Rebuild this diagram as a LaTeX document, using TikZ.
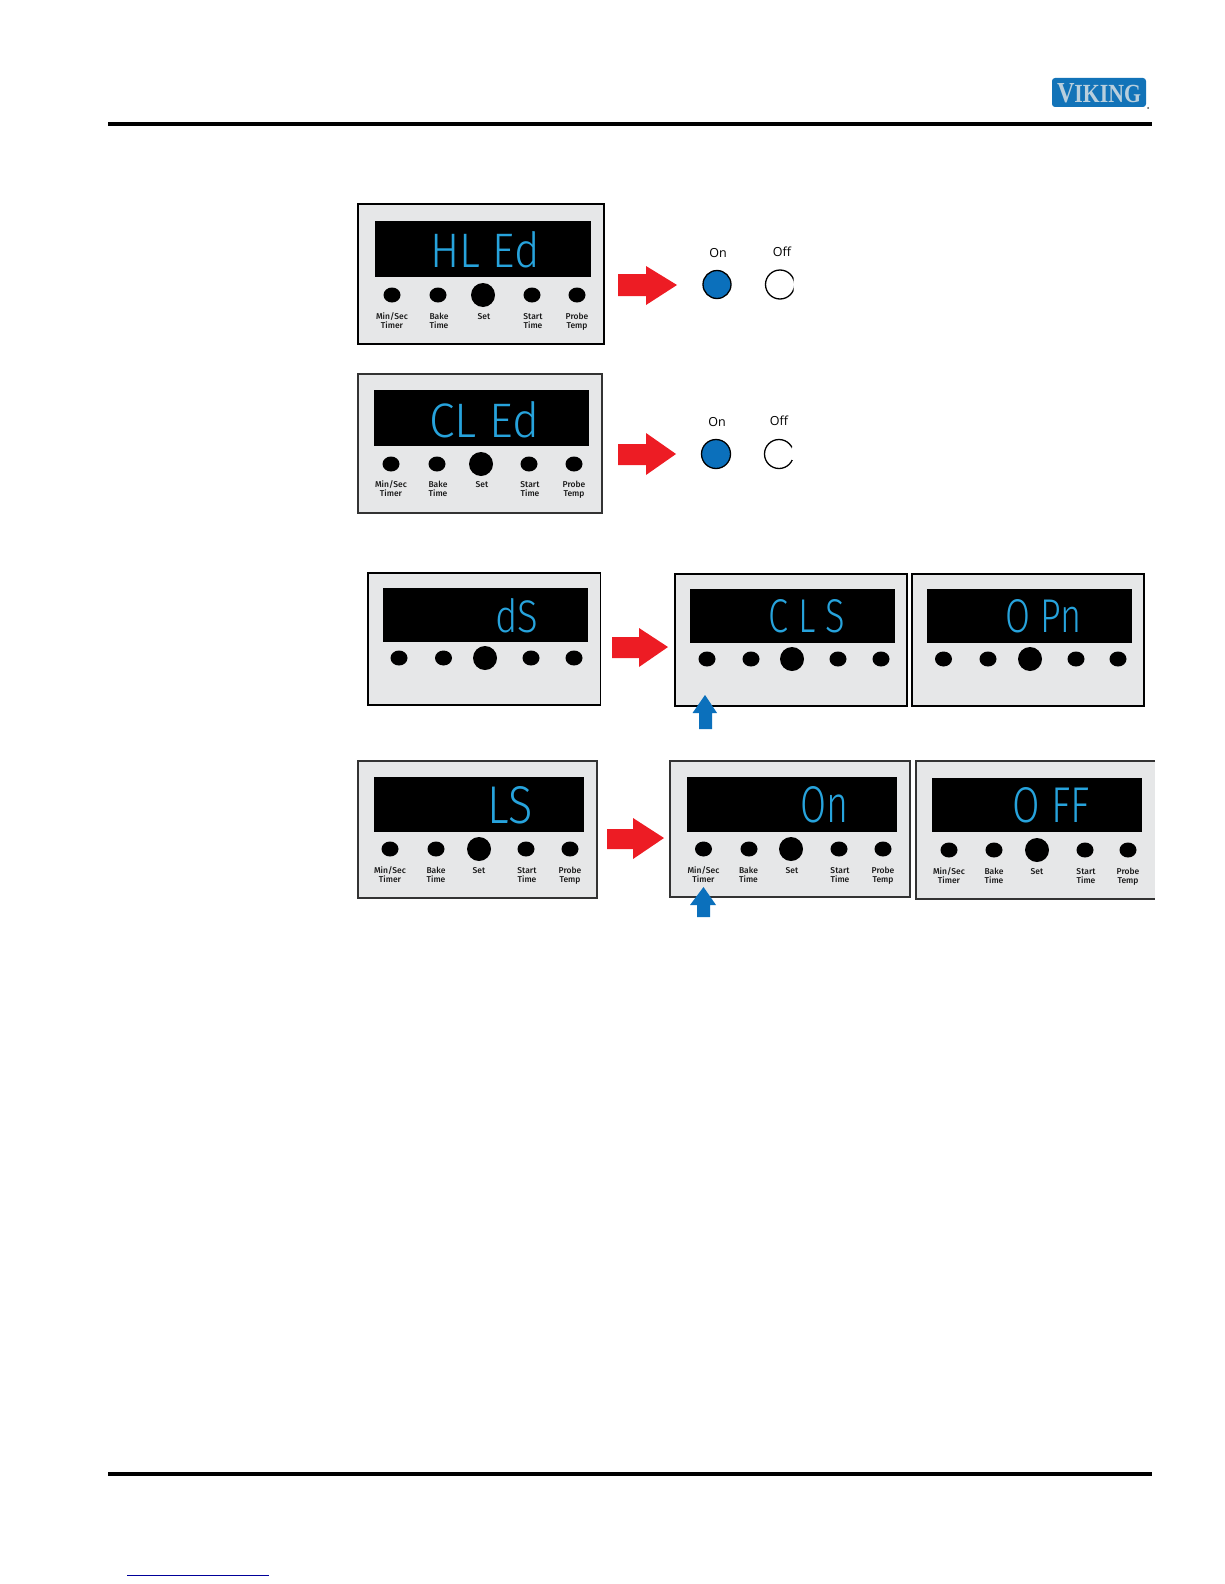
\documentclass[tikz,border=0pt]{standalone}
\usepackage{fontspec}
\usepackage{graphicx}
\setmainfont{Open Sans}
\newfontfamily\keyfont{Fira Sans Medium}
\newfontfamily\lcdfont{Fira Sans Light}
\newfontfamily\logofont{Liberation Serif}
\definecolor{panelgray}{HTML}{E6E7E8}
\definecolor{lcdblue}{HTML}{27A3DC}
\definecolor{ledblue}{HTML}{0B70BC}
\definecolor{pushred}{HTML}{ED1C24}
\definecolor{logoblue}{HTML}{1273B8}
\definecolor{logotext}{HTML}{B9CFDD}
\tikzset{
    panelbox/.style={draw=black,fill=panelgray,line width=1.5pt},
    softbox/.style={draw=black!80,fill=panelgray,line width=1.5pt},
    keytext/.style={font=\keyfont\fontsize{8.5}{9}\selectfont,align=center,inner sep=0pt,text depth=2pt,text=black!90},
    ledtext/.style={font=\fontsize{12.5}{13}\selectfont,inner sep=0pt},
    lcdtext/.style={inner sep=0pt,text=lcdblue},
    led/.style={draw=black,line width=1.3pt}
}
% width, height, text of a display
\newcommand{\lcdword}[3]{\resizebox{#1pt}{#2pt}{\lcdfont #3}}
% row of keys: y, then five x
\newcommand{\keyrow}[6]{
    \fill (#2,#1) ellipse (8.5 and 7.5);
    \fill (#3,#1) ellipse (8.5 and 7.5);
    \fill (#4,#1) ellipse (12 and 12);
    \fill (#5,#1) ellipse (8.5 and 7.5);
    \fill (#6,#1) ellipse (8.5 and 7.5);
}
% push arrow: x start, x base, x tip, y shaft top, y shaft bottom, y head top, y head bottom, y tip
\newcommand{\pusharrow}[8]{
    \fill[pushred] (#1,#4) -- (#2,#4) -- (#2,#6) -- (#3,#8) -- (#2,#7) -- (#2,#5) -- (#1,#5) -- cycle;
}
\begin{document}
\begin{tikzpicture}[x=1pt,y=-1pt]
    \useasboundingbox (0,0) rectangle (1224,1584);

    % page rules
    \fill (108,122) rectangle (1152,126);
    \fill (108,1472) rectangle (1152,1476);
    \draw[blue!60!black,line width=0.9pt] (127,1575) -- (269,1575);

    % logo
    \fill[logoblue,rounded corners=3pt] (1052,78) rectangle (1146,107);
    \node[inner sep=0pt,text=logotext,font=\logofont\bfseries] (logo) at (1099,93)
        {\resizebox{84pt}{19pt}{V\fontsize{9}{9}\selectfont IKING}};
    \fill[black!70] (1148,108) circle (1);

    % HL Ed panel
    \draw[panelbox] (358,204) rectangle (604,344);
    \fill (375,221) rectangle (591,277);
    \node[lcdtext] (hled) at (485,250) {\lcdword{109}{36}{HL Ed}};
    \keyrow{295}{392}{438}{483}{532}{577}
    \node[keytext] (hledmin) at (392,321.5) {Min/Sec\\Timer};
    \node[keytext] (hledbake) at (439,321.5) {Bake\\Time};
    \node[keytext] (hledset) at (484,317) {Set};
    \node[keytext] (hledstart) at (533,321.5) {Start\\Time};
    \node[keytext] (hledprobe) at (577,321.5) {Probe\\Temp};
    \pusharrow{618}{646}{677}{274}{296}{266}{305}{285}
    \node[ledtext] (hledon) at (718,253) {On};
    \node[ledtext] (hledoff) at (782,252) {Off};
    \draw[led,fill=ledblue] (717,284.5) circle (14);
    \begin{scope}
        \clip (760,265) rectangle (793.5,305);
        \draw[led,fill=white] (780,284.5) circle (14.5);
    \end{scope}

    % CL Ed panel
    \draw[softbox] (358,374) rectangle (602,513);
    \fill (374,390) rectangle (589,446);
    \node[lcdtext] (cled) at (484,420) {\lcdword{110}{36}{CL Ed}};
    \keyrow{464}{391}{437}{481}{529}{574}
    \node[keytext] (cledmin) at (391,490) {Min/Sec\\Timer};
    \node[keytext] (cledbake) at (438,490) {Bake\\Time};
    \node[keytext] (cledset) at (482,485) {Set};
    \node[keytext] (cledstart) at (530,490) {Start\\Time};
    \node[keytext] (cledprobe) at (574,490) {Probe\\Temp};
    \pusharrow{618}{646}{676}{444}{465}{433}{475}{454}
    \node[ledtext] (cledon) at (717,422) {On};
    \node[ledtext] (cledoff) at (779,421) {Off};
    \draw[led,fill=ledblue] (716,454) circle (14.5);
    \begin{scope}
        \clip (755,435) rectangle (793.5,447) (755,447) rectangle (791.5,460) (755,460) rectangle (793.5,475);
        \draw[led,fill=white] (779,454) circle (14.5);
    \end{scope}

    % dS panel
    \draw[panelbox] (368,573) rectangle (600.5,705);
    \fill (383,588) rectangle (588,642);
    \node[lcdtext] (ds) at (516.5,616) {\lcdword{43}{34}{dS}};
    \keyrow{658}{399}{443.5}{485}{531}{574}
    \pusharrow{612}{639}{668}{637}{658}{628}{667}{647}

    % CLS panel
    \draw[panelbox] (675,574) rectangle (907,706);
    \fill (690,589) rectangle (895,643);
    \node[lcdtext] (cls) at (807,616.5) {\lcdword{77}{33}{C L S}};
    \keyrow{659}{707}{751}{792}{838}{881}
    \fill[ledblue] (699,729) -- (699,713) -- (692.5,713) -- (705,695) -- (717,713) -- (712,713) -- (712,729) -- cycle;

    % OPn panel
    \draw[panelbox] (912,574) rectangle (1144,706);
    \fill (927,589) rectangle (1132,643);
    \node[lcdtext] (opn) at (1043.5,616.5) {\lcdword{76}{33}{O Pn}};
    \keyrow{659}{943.5}{988}{1030}{1076}{1118}

    % LS panel
    \draw[softbox] (358,761) rectangle (597,898);
    \fill (374,777) rectangle (584,832);
    \node[lcdtext] (ls) at (510.5,805.5) {\lcdword{45}{37}{LS}};
    \keyrow{849}{390}{436}{479}{526}{570}
    \node[keytext] (lsmin) at (390,875.5) {Min/Sec\\Timer};
    \node[keytext] (lsbake) at (436,875.5) {Bake\\Time};
    \node[keytext] (lsset) at (479,871) {Set};
    \node[keytext] (lsstart) at (527,875.5) {Start\\Time};
    \node[keytext] (lsprobe) at (570,875.5) {Probe\\Temp};
    \pusharrow{607}{633}{664}{829}{849}{818}{859}{838}

    % On panel
    \draw[softbox] (670,761) rectangle (910,897);
    \fill (687,777) rectangle (897,832);
    \node[lcdtext] (lson) at (824,805) {\lcdword{48}{36}{On}};
    \keyrow{849}{703.5}{749}{791}{839}{883}
    \node[keytext] (onmin) at (703.5,875.5) {Min/Sec\\Timer};
    \node[keytext] (onbake) at (748.5,875.5) {Bake\\Time};
    \node[keytext] (onset) at (792,871) {Set};
    \node[keytext] (onstart) at (840,875.5) {Start\\Time};
    \node[keytext] (onprobe) at (883,875.5) {Probe\\Temp};
    \fill[ledblue] (697,917) -- (697,905) -- (690,905) -- (703.5,887) -- (716,905) -- (710,905) -- (710,917) -- cycle;

    % OFF panel, cut at the right
    \fill[panelgray] (916,761) rectangle (1155,899);
    \draw[black!80,line width=1.5pt] (1155,761) -- (916,761) -- (916,899) -- (1155,899);
    \fill (932,778) rectangle (1142,832);
    \node[lcdtext] (lsoff) at (1051,805.5) {\lcdword{77}{35}{O FF}};
    \keyrow{850}{949}{994}{1037}{1085}{1128}
    \node[keytext] (offmin) at (949,877) {Min/Sec\\Timer};
    \node[keytext] (offbake) at (994,877) {Bake\\Time};
    \node[keytext] (offset) at (1037,872) {Set};
    \node[keytext] (offstart) at (1086,877) {Start\\Time};
    \node[keytext] (offprobe) at (1128,877) {Probe\\Temp};
\end{tikzpicture}
\end{document}
